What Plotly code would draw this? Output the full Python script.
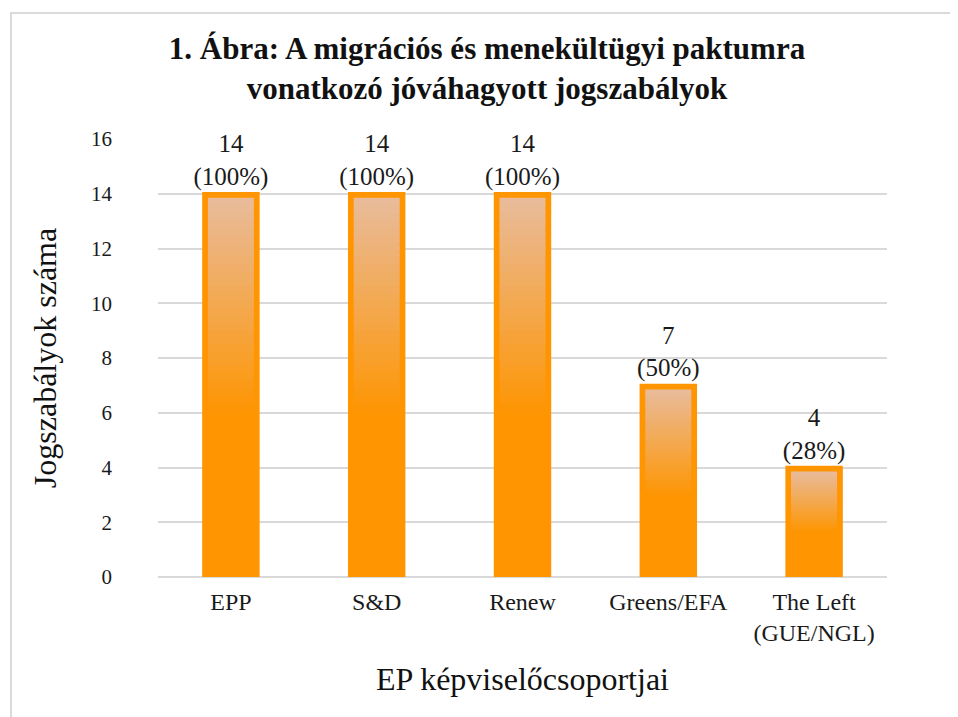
import plotly.graph_objects as go

categories = ["EPP", "S&D", "Renew", "Greens/EFA", "The Left<br>(GUE/NGL)"]
values = [14, 14, 14, 7, 4]
percent_labels = ["100%", "100%", "100%", "50%", "28%"]
y_ticks = [0, 2, 4, 6, 8, 10, 12, 14, 16]

ORANGE = "#FF9500"
TOP = (233, 188, 156)
BOT = (255, 149, 0)
SERIF = "Liberation Serif, Times New Roman, serif"

fig = go.Figure()

# main bars with outline
fig.add_trace(go.Bar(
    x=categories, y=values, width=0.37,
    marker=dict(color=ORANGE, line=dict(color=ORANGE, width=3.5)),
    text=[f"{v}<br>({p})" for v, p in zip(values, percent_labels)],
    textposition="outside", cliponaxis=False, constraintext="none",
    textfont=dict(family=SERIF, size=25, color="#1a1a1a"),
    hoverinfo="skip", showlegend=False,
))

# gradient overlay inside each bar (segments overlap slightly to avoid seams)
N = 30
start_f, end_f = 0.42, 1.0
for k in range(N):
    f0 = start_f + (end_f - start_f) * k / N
    f1 = start_f + (end_f - start_f) * (k + 1) / N
    t = (k + 0.5) / N
    c = tuple(int(BOT[i] + (TOP[i] - BOT[i]) * t) for i in range(3))
    inner_tops = [v - 0.15 for v in values]
    bases = [it * f0 for it in inner_tops]
    overlap = 0.0 if k == N - 1 else 0.06
    heights = [it * (f1 - f0) + overlap for it in inner_tops]
    fig.add_trace(go.Bar(
        x=categories, y=heights, base=bases, width=0.315,
        marker=dict(color=f"rgb{c}", line=dict(width=0)),
        hoverinfo="skip", showlegend=False,
    ))

L, R, T, B = 150, 79, 131, 148
PW = 958 - L - R
PH = 717 - T - B

fig.update_layout(
    barmode="overlay",
    width=958, height=717,
    paper_bgcolor="white", plot_bgcolor="white",
    margin=dict(l=L, r=R, t=T, b=B),
    title=dict(
        text="<b>1. Ábra: A migrációs és menekültügyi paktumra<br>vonatkozó jóváhagyott jogszabályok</b>",
        x=0.5, xanchor="center", y=0.929, yanchor="middle",
        font=dict(family=SERIF, size=31, color="#111"),
    ),
    font=dict(family=SERIF, color="#222"),
    xaxis=dict(
        showgrid=False, showline=False, ticks="", automargin=False,
        ticklabelstandoff=8,
        tickfont=dict(family=SERIF, size=24, color="#1a1a1a"),
        title=dict(text="EP képviselőcsoportjai", font=dict(family=SERIF, size=32, color="#111"), standoff=22),
    ),
    yaxis=dict(
        range=[0, 16], tickvals=y_ticks, showgrid=True, gridcolor="#D9D9D9", gridwidth=1.5,
        zeroline=True, zerolinecolor="#D9D9D9", zerolinewidth=1.5, showline=False, ticks="",
        ticklabelstandoff=45, automargin=False,
        tickfont=dict(family=SERIF, size=21, color="#1a1a1a"),
        title=dict(text="Jogszabályok száma", font=dict(family=SERIF, size=32, color="#111"), standoff=24),
    ),
    shapes=[dict(type="rect", xref="paper", yref="paper",
                 x0=(11 - 8 - L) / PW, x1=(958 - L + 40) / PW,
                 y0=-0.6, y1=1 + (T + 8 - 13) / PH,
                 line=dict(color="#DADADA", width=2), fillcolor="rgba(0,0,0,0)", layer="below")],
)

fig.write_html("out.html")
